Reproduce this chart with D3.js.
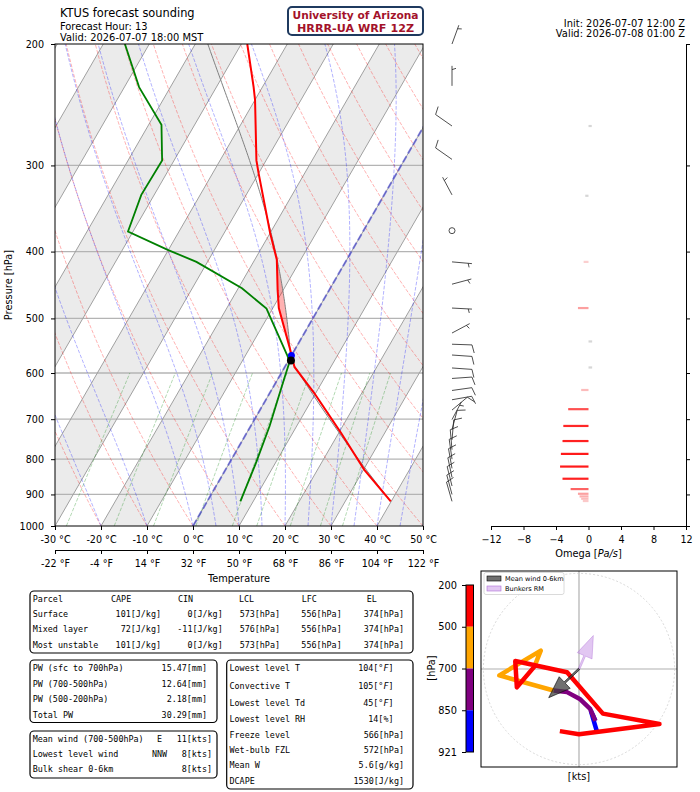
<!DOCTYPE html>
<html>
<head>
<meta charset="utf-8">
<title>KTUS forecast sounding</title>
<script src="https://cdn.jsdelivr.net/npm/d3@7/dist/d3.min.js"></script>
<style>
  body { margin: 0; background: #fff; }
  svg text { font-family: "DejaVu Sans", sans-serif; }
  .mono { font-family: "DejaVu Sans Mono", monospace; font-size: 8.4px; }
</style>
</head>
<body>
<svg id="chart" width="700" height="792"></svg>
<script>
// temperature profile [hPa], [degC]
const tempP = [200, 231, 241, 295, 308, 376, 411, 455, 483, 556, 588, 641, 732, 829, 921];
const tempC = [-48.7, -41.9, -40.0, -32.1, -30.0, -20.0, -15.2, -11.2, -8.7, -0.9, 2.1, 9.6, 20.4, 30.2, 39.9];
// dewpoint profile
const dewP = [200, 231, 262, 295, 331, 374, 398, 414, 452, 484, 565, 578, 614, 716, 812, 921];
const dewC = [-75.3, -66.8, -57.2, -52.6, -52.8, -51.1, -40.0, -32.4, -19.2, -11.3, -1.0, 0.4, 1.4, 4.1, 5.8, 7.2];
const freezeP = 566;

// omega [Pa/s]
const omegaP = [263, 332, 414, 483, 540, 589, 635, 677, 716, 753, 786, 820, 854, 884, 898, 906, 913, 920];
const omegaV = [0.4, -0.4, -0.6, -1.3, 0.45, 0.45, -0.9, -2.5, -3.1, -3.2, -3.4, -3.5, -3.2, -2.2, -1.3, -1.1, -0.9, -0.7];

// wind barbs: pressure, direction (deg from), speed (kt)
const barbP   = [200, 230, 263, 294, 331, 373, 414, 446, 483, 525, 545, 565, 590, 611, 636, 656, 679, 701, 725, 750, 775, 800, 825, 850, 875, 900, 921];
const barbDir = [20, 0, 305, 305, 332, 0, 95, 75, 93, 62, 92, 94, 94, 86, 82, 80, 50, 28, 15, 5, 355, 352, 350, 348, 346, 345, 344];
const barbSpd = [5, 5, 10, 10, 5, 0, 5, 5, 5, 5, 10, 10, 10, 10, 10, 10, 10, 5, 8, 8, 8, 8, 8, 8, 8, 8, 8];

// hodograph (kt)
const hodoP = [921, 900, 880, 865, 850, 815, 775, 740, 700, 650, 580, 500, 470, 440, 373, 330, 290, 240, 200];
const hodoU = [2.3, 2.0, 1.5, 1.8, 2.05, 1.4, 0.16, -1.5, -3.2, -10.0, -4.8, -5.6, -7.8, -8.0, -1.5, 3.0, 10.1, 0.0, -2.4];
const hodoV = [-8.0, -7.0, -5.3, -5.9, -6.5, -5.0, -3.8, -2.9, -2.7, -0.8, 2.3, 0.3, -2.3, 1.0, -0.4, -5.6, -6.9, -8.2, -7.8];
const hodoBounds = [200, 500, 700, 850, 921];
const hodoColors = ["red", "orange", "purple", "blue"];
const meanWind = [-3.8, -3.6];
const bunkersRM = [1.8, 4.2];

// tables
const parcelNames = ["Surface", "Mixed layer", "Most unstable"];
const parcelCAPE = [101, 72, 101];
const parcelCIN = [0, -11, 0];
const parcelLCL = [573, 576, 573];
const parcelLFC = [556, 556, 556];
const parcelEL = [374, 374, 374];
const pwLabels = ["PW (sfc to 700hPa)", "PW (700-500hPa)", "PW (500-200hPa)", "Total PW"];
const pwValues = ["15.47", "12.64", "2.18", "30.29"];
const windLabels = ["Mean wind (700-500hPa)", "Lowest level wind", "Bulk shear 0-6km"];
const windDirs = ["E", "NNW", ""];
const windKts = [11, 8, 8];
const idxLabels = ["Lowest level T", "Convective T", "Lowest level Td", "Lowest level RH", "Freeze level", "Wet-bulb FZL", "Mean W", "DCAPE"];
const idxValues = ["104", "105", "45", "14", "566", "572", "5.6", "1530"];
const idxUnits = ["°F", "°F", "°F", "%", "hPa", "hPa", "g/kg", "J/kg"];

// reference lines
const dryT0 = d3.range(-50, 201, 10);
const moistT0 = [-50, -40, -30, -20, -10, 0, 5, 10, 15, 20, 25, 30, 35, 40, 45, 50];
const mixW = [0.0004, 0.001, 0.002, 0.004, 0.007, 0.01, 0.016, 0.024, 0.032];

const svg = d3.select("#chart");
svg.append("rect").attr("width", 700).attr("height", 792).attr("fill", "#fff");

// ---- thermo helpers
const Rd = 287.04749, Cp = 1004.6662, Lv = 2.50084e6, eps = 0.6219569, kappa = Rd / Cp;
const es = tc => 6.112 * Math.exp(17.67 * tc / (tc + 243.5));
const rs = (tc, p) => { const e = es(tc); return eps * e / (p - e); };
const dewFromE = e => { const a = Math.log(e / 6.112); return 243.5 * a / (17.67 - a); };
function dTdp(tk, p) {
  const r = rs(tk - 273.15, p);
  return (Rd * tk + Lv * r) / (Cp + Lv * Lv * r * eps / (Rd * tk * tk)) / p;
}
function moist(t0, p0, p1, n) {
  const out = [[p0, t0]];
  let tk = t0 + 273.15, p = p0;
  const h = (p1 - p0) / n;
  for (let i = 0; i < n; i++) {
    const k1 = dTdp(tk, p), k2 = dTdp(tk + h * k1 / 2, p + h / 2),
          k3 = dTdp(tk + h * k2 / 2, p + h / 2), k4 = dTdp(tk + h * k3, p + h);
    tk += h * (k1 + 2 * k2 + 2 * k3 + k4) / 6; p += h;
    out.push([p, tk - 273.15]);
  }
  return out;
}
function lcl(p0, t0, td0) {
  const w = rs(td0, p0);
  let lo = 150, hi = p0;
  for (let i = 0; i < 60; i++) {
    const mid = (lo + hi) / 2;
    const t = (t0 + 273.15) * Math.pow(mid / p0, kappa) - 273.15;
    const td = dewFromE(w * mid / (eps + w));
    if (t > td) hi = mid; else lo = mid;
  }
  return [hi, (t0 + 273.15) * Math.pow(hi / p0, kappa) - 273.15];
}
function interpLog(pa, va, p) {
  for (let i = 0; i < pa.length - 1; i++) {
    if (p >= pa[i] && p <= pa[i + 1]) {
      const f = Math.log(p / pa[i]) / Math.log(pa[i + 1] / pa[i]);
      return va[i] + f * (va[i + 1] - va[i]);
    }
  }
  return p < pa[0] ? va[0] : va[va.length - 1];
}

// ---- skew-T
const L = 55, R = 423, T = 44, B = 526;
const yP = d3.scaleLog().domain([200, 1000]).range([T, B]);
const xT = d3.scaleLinear().domain([-30, 50]).range([L, R]);
const skew = Math.tan(Math.PI / 6);
const sx = (t, p) => xT(t) + (B - yP(p)) * skew;
const line = d3.line().x(d => sx(d[1], d[0])).y(d => yP(d[0]));

svg.append("clipPath").attr("id", "skewclip").append("rect")
  .attr("x", L).attr("y", T).attr("width", R - L).attr("height", B - T);
const sk = svg.append("g").attr("clip-path", "url(#skewclip)");

// isotherm bands
d3.range(-120, 60, 20).forEach(t0 => {
  const top = (B - T) * skew;
  sk.append("path")
    .attr("d", `M${xT(t0)},${B}L${xT(t0 + 10)},${B}L${xT(t0 + 10) + top},${T}L${xT(t0) + top},${T}Z`)
    .attr("fill", "#ebebeb");
});
// pressure grid
d3.range(300, 1000, 100).forEach(p => {
  sk.append("line").attr("x1", L).attr("x2", R).attr("y1", yP(p)).attr("y2", yP(p))
    .attr("stroke", "#b4b4b4").attr("stroke-width", 1.3);
});
// isotherm lines
d3.range(-120, 60, 10).forEach(t => {
  sk.append("path").attr("d", line([[1000, t], [200, t]]))
    .attr("stroke", "#a0a0a0").attr("stroke-width", 1).attr("fill", "none");
});
const pLevels = d3.range(0, 81).map(i => 1000 - i * 10);
dryT0.forEach(t0 => {
  const pts = pLevels.map(p => [p, (t0 + 273.15) * Math.pow(p / 1000, kappa) - 273.15]);
  sk.append("path").attr("d", line(pts)).attr("fill", "none")
    .attr("stroke", "red").attr("stroke-opacity", 0.3).attr("stroke-width", 1).attr("stroke-dasharray", "3.7,1.6");
});
moistT0.forEach(t0 => {
  sk.append("path").attr("d", line(moist(t0, 1000, 200, 80))).attr("fill", "none")
    .attr("stroke", "blue").attr("stroke-opacity", 0.3).attr("stroke-width", 1).attr("stroke-dasharray", "3.7,1.6");
});
mixW.forEach(w => {
  const pts = d3.range(1000, 599, -20).map(p => [p, dewFromE(w * p / (eps + w))]);
  sk.append("path").attr("d", line(pts)).attr("fill", "none")
    .attr("stroke", "green").attr("stroke-opacity", 0.3).attr("stroke-width", 1).attr("stroke-dasharray", "3.7,1.6");
});
// 0 degC isotherm
sk.append("path").attr("d", line([[1000, 0], [200, 0]])).attr("fill", "none")
  .attr("stroke", "#3a3ad0").attr("stroke-opacity", 0.6).attr("stroke-width", 2).attr("stroke-dasharray", "7,3");

// parcel
const n = tempP.length - 1;
const sfcP = tempP[n], sfcT = tempC[n], sfcTd = dewC[dewC.length - 1];
const [lclP, lclT] = lcl(sfcP, sfcT, sfcTd);
const dryPart = d3.range(0, 21).map(i => {
  const p = sfcP + (lclP - sfcP) * i / 20;
  return [p, (sfcT + 273.15) * Math.pow(p / sfcP, kappa) - 273.15];
});
const moistPart = moist(lclT, lclP, 200, 150);
// CAPE shading
const area = d3.area()
  .y(d => yP(d[0]))
  .x0(d => sx(interpLog(tempP, tempC, d[0]), d[0]))
  .x1(d => sx(Math.max(d[1], interpLog(tempP, tempC, d[0])), d[0]));
sk.append("path").attr("d", area(moistPart)).attr("fill", "red").attr("fill-opacity", 0.3);
sk.append("path").attr("d", line(dryPart.concat(moistPart))).attr("fill", "none")
  .attr("stroke", "#808080").attr("stroke-width", 1);

sk.append("path").attr("d", line(tempP.map((p, i) => [p, tempC[i]]))).attr("fill", "none")
  .attr("stroke", "red").attr("stroke-width", 2);
sk.append("path").attr("d", line(dewP.map((p, i) => [p, dewC[i]]))).attr("fill", "none")
  .attr("stroke", "green").attr("stroke-width", 1.8);
sk.append("circle").attr("cx", sx(0, freezeP)).attr("cy", yP(freezeP)).attr("r", 3.5).attr("fill", "blue");
sk.append("circle").attr("cx", sx(lclT, lclP)).attr("cy", yP(lclP)).attr("r", 4).attr("fill", "black");

svg.append("rect").attr("x", L).attr("y", T).attr("width", R - L).attr("height", B - T)
  .attr("fill", "none").attr("stroke", "#000").attr("stroke-width", 1);

function styleAxis(g, fs) {
  g.attr("font-family", "DejaVu Sans").attr("font-size", fs);
  g.selectAll("line").attr("stroke", "#000");
  g.selectAll("path").attr("stroke", "#000");
}
const axL = svg.append("g").attr("transform", `translate(${L},0)`)
  .call(d3.axisLeft(yP).tickValues(d3.range(200, 1001, 100)).tickFormat(d3.format("d")).tickSize(4).tickPadding(7).tickSizeOuter(0));
axL.select(".domain").remove();
styleAxis(axL, 9.6);
const axC = svg.append("g").attr("transform", `translate(0,${B})`)
  .call(d3.axisBottom(xT).tickValues(d3.range(-30, 51, 10)).tickFormat(d => (d < 0 ? "-" : "") + Math.abs(d) + " °C").tickSize(4).tickPadding(6).tickSizeOuter(0));
axC.select(".domain").remove();
styleAxis(axC, 9.6);
const xF = d3.scaleLinear().domain([-22, 122]).range([L, R]);
const axF = svg.append("g").attr("transform", "translate(0,550)")
  .call(d3.axisBottom(xF).tickValues(d3.range(-22, 123, 18)).tickFormat(d => (d < 0 ? "-" : "") + Math.abs(d) + " °F").tickSize(4).tickPadding(6).tickSizeOuter(0));
styleAxis(axF, 9.6);
svg.append("text").attr("x", (L + R) / 2).attr("y", 582).attr("text-anchor", "middle").attr("font-size", 9.8).text("Temperature");
svg.append("text").attr("transform", `translate(12,${(T + B) / 2}) rotate(-90)`).attr("text-anchor", "middle")
  .attr("font-size", 9.8).text("Pressure [hPa]");

// ---- titles
svg.append("text").attr("x", 60).attr("y", 17).attr("font-size", 11.4).text("KTUS forecast sounding");
svg.append("text").attr("x", 60).attr("y", 30).attr("font-size", 9.9).text("Forecast Hour: 13");
svg.append("text").attr("x", 60).attr("y", 40.5).attr("font-size", 9.9).text("Valid: 2026-07-07 18:00 MST");
svg.append("text").attr("x", 685).attr("y", 26.5).attr("text-anchor", "end").attr("font-size", 9.9).text("Init: 2026-07-07 12:00 Z");
svg.append("text").attr("x", 685).attr("y", 36.5).attr("text-anchor", "end").attr("font-size", 9.9).text("Valid: 2026-07-08 01:00 Z");
svg.append("rect").attr("x", 288).attr("y", 7).attr("width", 135).attr("height", 28).attr("rx", 4)
  .attr("fill", "#fff").attr("stroke", "#1f3a5f").attr("stroke-width", 2);
[["University of Arizona", 19.2, 126], ["HRRR-UA WRF 12Z", 31.6, 117]].forEach(([s, y, w]) => {
  svg.append("text").attr("x", 355.5).attr("y", y).attr("text-anchor", "middle")
    .attr("font-family", "Liberation Serif").attr("font-weight", "bold").attr("font-size", 11)
    .attr("fill", "#a3122a").attr("textLength", w).attr("lengthAdjust", "spacingAndGlyphs").text(s);
});

// ---- wind barbs
const bg = svg.append("g");
const barbX = 452;
function drawBarb(bx, by, dir, spd) {
  const len = 20, hgt = 8, wid = 5, gap = 2.5;
  const s = Math.round(spd / 5) * 5;
  if (s === 0) {
    bg.append("circle").attr("cx", bx).attr("cy", by).attr("r", 3)
      .attr("fill", "none").attr("stroke", "#222").attr("stroke-width", 0.8);
    return;
  }
  const a = dir * Math.PI / 180;
  const dx = Math.sin(a), dy = -Math.cos(a), px = -dy, py = dx;
  let d = `M${bx},${by}L${bx + len * dx},${by + len * dy}`;
  let off = len;
  const full = Math.floor(s / 10), half = s % 10 >= 5;
  for (let i = 0; i < full; i++) {
    d += `M${bx + off * dx},${by + off * dy}L${bx + (off + wid / 2) * dx + hgt * px},${by + (off + wid / 2) * dy + hgt * py}`;
    off -= gap;
  }
  if (half) {
    if (full === 0) off -= 1.5 * gap;
    d += `M${bx + off * dx},${by + off * dy}L${bx + (off + wid / 4) * dx + hgt / 2 * px},${by + (off + wid / 4) * dy + hgt / 2 * py}`;
  }
  bg.append("path").attr("d", d).attr("fill", "none").attr("stroke", "#222").attr("stroke-width", 0.8);
}
barbP.forEach((p, i) => drawBarb(barbX, yP(p), barbDir[i], barbSpd[i]));

// ---- omega panel
const xO = d3.scaleLinear().domain([-12, 12]).range([491, 686]);
const omegaColor = w => (w > -0.45) ? "#d6d6d6" : d3.interpolateRgb("#fbd6d6", "#ff1a1a")(Math.min(1, (-w - 0.5) / 2.8));
svg.append("g").selectAll("line").data(omegaP).join("line")
  .attr("x1", xO(0)).attr("x2", (d, i) => xO(omegaV[i]))
  .attr("y1", d => yP(d)).attr("y2", d => yP(d))
  .attr("stroke", (d, i) => omegaColor(omegaV[i])).attr("stroke-width", 2.2);
const axO = svg.append("g").attr("transform", `translate(0,${B})`)
  .call(d3.axisBottom(xO).tickValues([-12, -8, -4, 0, 4, 8, 12]).tickFormat(d3.format("d")).tickSize(4).tickPadding(6).tickSizeOuter(0));
styleAxis(axO, 9.6);
const axOR = svg.append("g").attr("transform", "translate(686,0)")
  .call(d3.axisRight(yP).tickValues(d3.range(200, 1001, 100)).tickFormat("").tickSize(4).tickSizeOuter(0));
styleAxis(axOR, 9.6);
const ol = svg.append("text").attr("x", xO(0)).attr("y", 557).attr("text-anchor", "middle").attr("font-size", 9.8);
ol.append("tspan").text("Omega [");
ol.append("tspan").attr("font-style", "italic").text("Pa/s");
ol.append("tspan").text("]");

// ---- tables
function box(x0, y0, x1, y1) {
  svg.append("rect").attr("x", x0).attr("y", y0).attr("width", x1 - x0).attr("height", y1 - y0).attr("rx", 4)
    .attr("fill", "none").attr("stroke", "#000").attr("stroke-width", 1.2);
}
function mono(x, y, s, anchor) {
  return svg.append("text").attr("class", "mono").attr("x", x).attr("y", y)
    .attr("text-anchor", anchor || "start").text(s);
}
box(30, 591, 413, 653);
const rowY1 = [602, 617, 632.3, 648];
mono(32.7, rowY1[0], "Parcel");
[["CAPE", 111], ["CIN", 178], ["LCL", 239], ["LFC", 301.7], ["EL", 366.7]].forEach(([s, x]) => mono(x, rowY1[0], s));
parcelNames.forEach((nm, i) => {
  const y = rowY1[i + 1];
  mono(32.7, y, nm);
  mono(161, y, parcelCAPE[i] + "[J/kg]", "end");
  mono(222.7, y, parcelCIN[i] + "[J/kg]", "end");
  mono(280, y, parcelLCL[i] + "[hPa]", "end");
  mono(341.7, y, parcelLFC[i] + "[hPa]", "end");
  mono(404, y, parcelEL[i] + "[hPa]", "end");
});
box(30, 660, 217, 722.5);
[670.7, 687, 702, 718].forEach((y, i) => {
  mono(32.7, y, pwLabels[i]);
  mono(207, y, pwValues[i] + "[mm]", "end");
});
box(30, 731, 217, 778);
[742, 757, 772].forEach((y, i) => {
  mono(32.7, y, windLabels[i]);
  mono(159.5, y, windDirs[i], "middle");
  mono(212, y, windKts[i] + "[kts]", "end");
});
box(226.7, 660, 413, 789);
[671.3, 688.7, 705.7, 722, 737.7, 753, 768.3, 784].forEach((y, i) => {
  mono(229.5, y, idxLabels[i]);
  const u = idxUnits[i];
  if (u === "°F") {
    const t = mono(393.5, y, "", "end");
    t.append("tspan").text(idxValues[i] + "[°");
    t.append("tspan").attr("font-style", "italic").text("F");
    t.append("tspan").text("]");
  } else if (u === "%") {
    mono(393.5, y, idxValues[i] + "[%]", "end");
  } else {
    mono(404, y, idxValues[i] + "[" + u + "]", "end");
  }
});

// ---- hodograph
const hx = d3.scaleLinear().domain([-12.3, 12.3]).range([481, 677]);
const hy = d3.scaleLinear().domain([-12.3, 12.3]).range([767, 571]);
const hg = svg.append("g");
hg.append("line").attr("x1", hx(0)).attr("x2", hx(0)).attr("y1", 571).attr("y2", 767).attr("stroke", "#b0b0b0").attr("stroke-width", 1.2);
hg.append("line").attr("x1", 481).attr("x2", 677).attr("y1", hy(0)).attr("y2", hy(0)).attr("stroke", "#b0b0b0").attr("stroke-width", 1.2);
hg.append("circle").attr("cx", hx(0)).attr("cy", hy(0)).attr("r", hx(12) - hx(0))
  .attr("fill", "none").attr("stroke", "#cfcfcf").attr("stroke-width", 0.8).attr("stroke-dasharray", "2,2");
const hline = d3.line().x(i => hx(hodoU[i])).y(i => hy(hodoV[i]));
for (let k = 3; k >= 0; k--) {
  const lo = hodoBounds[k], hi = hodoBounds[k + 1];
  const idx = d3.range(hodoP.length).filter(i => hodoP[i] >= lo && hodoP[i] <= hi);
  hg.append("path").attr("d", hline(idx)).attr("fill", "none").attr("stroke", hodoColors[k])
    .attr("stroke-width", 4.5).attr("stroke-linejoin", "round");
}
function arrow(u, v, fill, op, edge) {
  const x0 = hx(0), y0 = hy(0), x1 = hx(u), y1 = hy(v);
  const lenA = Math.hypot(x1 - x0, y1 - y0), ex = (x1 - x0) / lenA, ey = (y1 - y0) / lenA;
  const nx = -ey, ny = ex, hl = 22, hw = 8, sw = 0.9;
  const bx = x1 - ex * hl, by = y1 - ey * hl;
  const pts = [[x0 + nx * sw, y0 + ny * sw], [bx + nx * sw, by + ny * sw], [bx + nx * hw, by + ny * hw], [x1, y1],
               [bx - nx * hw, by - ny * hw], [bx - nx * sw, by - ny * sw], [x0 - nx * sw, y0 - ny * sw]];
  hg.append("path").attr("d", "M" + pts.join("L") + "Z").attr("fill", fill).attr("fill-opacity", op)
    .attr("stroke", edge).attr("stroke-opacity", op).attr("stroke-width", 0.8);
}
arrow(bunkersRM[0], bunkersRM[1], "#c690e6", 0.5, "#b070d8");
arrow(meanWind[0], meanWind[1], "#404040", 0.75, "#000");
svg.append("rect").attr("x", 481).attr("y", 571).attr("width", 196).attr("height", 196)
  .attr("fill", "none").attr("stroke", "#000").attr("stroke-width", 1);
// legend
svg.append("rect").attr("x", 484).attr("y", 572.5).attr("width", 80).attr("height", 22).attr("rx", 2)
  .attr("fill", "#fff").attr("fill-opacity", 0.8).attr("stroke", "#d0d0d0").attr("stroke-width", 0.8);
svg.append("rect").attr("x", 487).attr("y", 576).attr("width", 14).attr("height", 5)
  .attr("fill", "#404040").attr("fill-opacity", 0.75).attr("stroke", "#000").attr("stroke-width", 0.6);
svg.append("rect").attr("x", 487).attr("y", 586).attr("width", 14).attr("height", 5)
  .attr("fill", "#c690e6").attr("fill-opacity", 0.5).attr("stroke", "#b070d8").attr("stroke-width", 0.6);
svg.append("text").attr("x", 505).attr("y", 581).attr("font-size", 6.6).text("Mean wind 0-6km");
svg.append("text").attr("x", 505).attr("y", 591).attr("font-size", 6.6).text("Bunkers RM");
svg.append("text").attr("x", hx(0)).attr("y", 780).attr("text-anchor", "middle").attr("font-size", 9.8).text("[kts]");
// colorbar
const cbY = d3.scalePoint().domain(hodoBounds).range([585, 752]);
hodoColors.forEach((c, k) => {
  svg.append("rect").attr("x", 466).attr("y", cbY(hodoBounds[k])).attr("width", 7.5)
    .attr("height", cbY(hodoBounds[k + 1]) - cbY(hodoBounds[k])).attr("fill", c);
});
svg.append("rect").attr("x", 466).attr("y", 585).attr("width", 7.5).attr("height", 167)
  .attr("fill", "none").attr("stroke", "#000").attr("stroke-width", 1);
const axCb = svg.append("g").attr("transform", "translate(466,0)")
  .call(d3.axisLeft(cbY).tickSize(4).tickPadding(5).tickSizeOuter(0));
axCb.select(".domain").remove();
styleAxis(axCb, 9.8);
svg.append("text").attr("transform", "translate(435,668) rotate(-90)").attr("text-anchor", "middle")
  .attr("font-size", 9.8).text("[hPa]");
</script>
</body>
</html>
